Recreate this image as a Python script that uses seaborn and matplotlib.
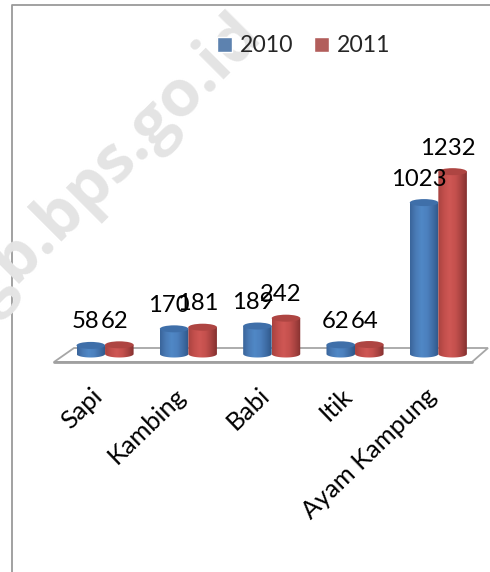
import numpy as np
import pandas as pd
import matplotlib
matplotlib.use('Agg')
import matplotlib.pyplot as plt
import seaborn as sns
from matplotlib.patches import Ellipse, Polygon
from matplotlib.transforms import ScaledTranslation

# values
categories = ['Sapi', 'Kambing', 'Babi', 'Itik', 'Ayam Kampung']
years = ['2010', '2011']
values_2010 = [58, 170, 189, 62, 1023]
values_2011 = [62, 181, 242, 64, 1232]

W, H = 490, 572
font = 'Lato'
fs = 17.2
base_colors = {'2010': '#4F81BD', '2011': '#C0504D'}
shades = {'2010': ['#3A659B', '#4A7BB6', '#5088C6', '#4C80BE', '#3F6DA6', '#2F5788'],
          '2011': ['#A84340', '#C24F4C', '#CF5754', '#C5514E', '#A94341', '#853130']}
caps = {'2010': '#3F6FA9', '2011': '#AE4542'}

sns.set_theme(style='white')
plt.rcParams['font.family'] = [font, 'DejaVu Sans']

df = pd.DataFrame({
    'category': categories * 2,
    'year': ['2010'] * 5 + ['2011'] * 5,
    'value': values_2010 + values_2011,
})

fig = plt.figure(figsize=(W / 100, H / 100), dpi=100, facecolor='white')

# ── Background layer in pixel coordinates: frame, floor, watermark ──
bg = fig.add_axes([0, 0, 1, 1], zorder=0)
bg.set_xlim(0, W)
bg.set_ylim(H, 0)
bg.axis('off')
bg.text(264, 39, 'gb.bps.go.id', rotation=45, rotation_mode='anchor', ha='right', va='baseline',
        fontsize=47, fontweight='bold', color='#E4E4E4',
        family=['Open Sans', 'DejaVu Sans'], clip_on=True)
bg.plot([12, 12, 490], [572, 5, 5], color='#9A9A9A', lw=1.3)
bg.add_patch(Polygon([(54, 362), (74, 348), (488, 348), (472, 362)], closed=True,
                     facecolor='white', edgecolor='#A6A6A6', lw=1.3))
bg.plot([54, 472], [362, 362], color='#A0A0A0', lw=2.0)

# ── Bars ──
left, right, base_px, top_px = 63.4, 480.0, 354, 20
bottom_px = 358
px_per_unit = 0.148
ylim = (-(bottom_px - base_px) / px_per_unit, (base_px - top_px) / px_per_unit)
ax = fig.add_axes([left / W, (H - bottom_px) / H, (right - left) / W, (bottom_px - top_px) / H], zorder=1)
ax.patch.set_alpha(0)
sns.barplot(data=df, x='category', y='value', hue='year', order=categories,
            hue_order=years, palette=base_colors, width=0.685, gap=0, ax=ax)
ax.set_xlabel('')
ax.set_ylabel('')
ax.set_yticks([])
sns.despine(ax=ax, left=True, bottom=True)

cap_h = 7 / px_per_unit
theta = np.linspace(np.pi, 2 * np.pi, 40)
for year, container in zip(years, ax.containers):
    cmap = matplotlib.colors.LinearSegmentedColormap.from_list(year, shades[year])
    grad = np.linspace(0, 1, 64).reshape(1, -1)
    z = 3 if year == '2010' else 4
    for bar in container:
        x0, bw, h = bar.get_x(), bar.get_width(), bar.get_height()
        xc = x0 + bw / 2
        bar.set_visible(False)
        # cylinder body: rectangle with a rounded lower edge
        pts = [(xc + bw / 2 * np.cos(t), cap_h / 2 * np.sin(t)) for t in theta]
        pts += [(x0 + bw, h), (x0, h)]
        body = Polygon(pts, closed=True, facecolor='none', edgecolor='none')
        ax.add_patch(body)
        im = ax.imshow(grad, cmap=cmap, extent=[x0, x0 + bw, -cap_h, h], aspect='auto',
                       zorder=z, interpolation='bilinear')
        im.set_clip_path(body)
        ax.add_patch(Ellipse((xc, h), bw, cap_h, facecolor=caps[year], edgecolor='none',
                             zorder=z + 0.1, clip_on=False))
        ax.annotate(f'{h:.0f}', (xc, h), xytext=(-5, 23.5), textcoords='offset pixels',
                    ha='center', va='center', fontsize=fs, color='black', zorder=6,
                    annotation_clip=False)
ax.set_xlim(-0.5, 4.5)
ax.set_ylim(*ylim)

ax.tick_params(axis='x', length=0, pad=18.5)
ax.set_xticks(range(len(categories)))
ax.set_xticklabels(categories, rotation=44, ha='right', rotation_mode='anchor',
                   fontsize=18.3, color='black')
shift = ScaledTranslation(-14 / 100, 0, fig.dpi_scale_trans)
for lab in ax.get_xticklabels():
    lab.set_transform(lab.get_transform() + shift)

handles, labels = ax.get_legend_handles_labels()
ax.legend(handles, labels, loc='center left', frameon=False, ncol=2,
          bbox_to_anchor=(217 / W, (H - 46) / H), bbox_transform=fig.transFigure,
          fontsize=16.6, borderpad=0, borderaxespad=0, handlelength=0.65,
          handleheight=0.65, handletextpad=0.35, columnspacing=0.87)

fig.savefig('out.png', dpi=100)
